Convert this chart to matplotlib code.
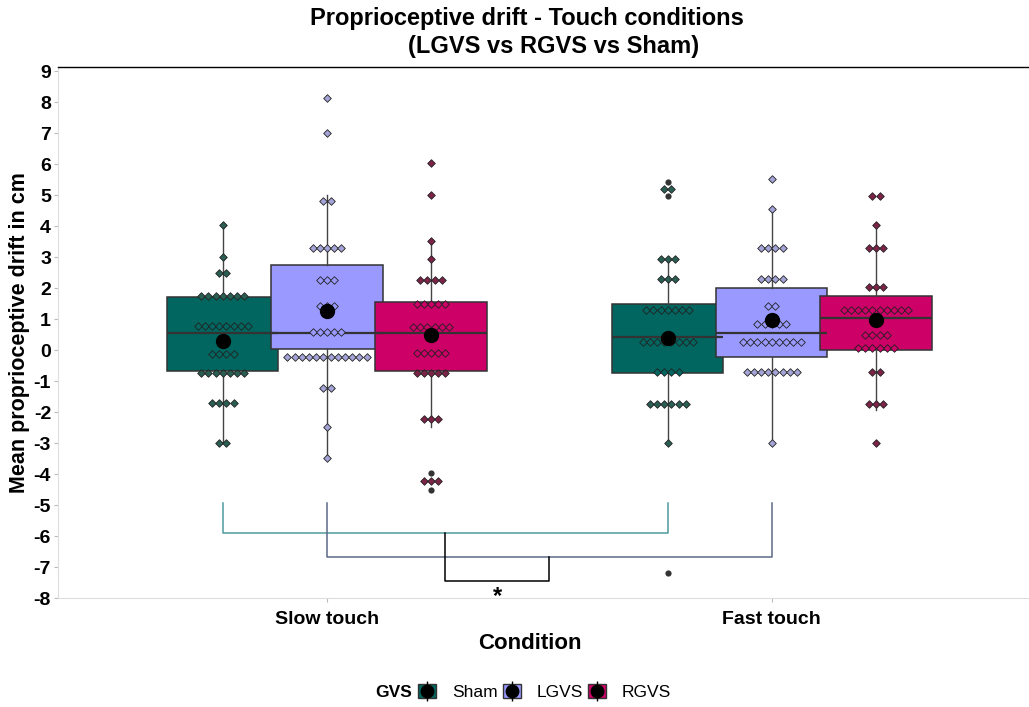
import numpy as np
import matplotlib
matplotlib.use("Agg")
import matplotlib.pyplot as plt
from matplotlib.patches import Patch
from matplotlib.lines import Line2D

plt.rcParams["font.family"] = ["Liberation Sans", "DejaVu Sans"]

# --- data ---
conditions = ["Slow touch", "Fast touch"]
groups = ["Sham", "LGVS", "RGVS"]

box_colors = {"Sham": "#00665f", "LGVS": "#9999ff", "RGVS": "#cc0066"}
dot_colors = {"Sham": "#2b5e52", "LGVS": "#a4a4d8", "RGVS": "#7c2448"}

# box stats per (condition, group): q1, median, q3, whisker low, whisker high
q1 = {("Slow touch", "Sham"): -0.68, ("Slow touch", "LGVS"): 0.03, ("Slow touch", "RGVS"): -0.68,
      ("Fast touch", "Sham"): -0.75, ("Fast touch", "LGVS"): -0.23, ("Fast touch", "RGVS"): 0.0}
med = {("Slow touch", "Sham"): 0.55, ("Slow touch", "LGVS"): 0.55, ("Slow touch", "RGVS"): 0.55,
       ("Fast touch", "Sham"): 0.42, ("Fast touch", "LGVS"): 0.55, ("Fast touch", "RGVS"): 1.03}
q3 = {("Slow touch", "Sham"): 1.71, ("Slow touch", "LGVS"): 2.75, ("Slow touch", "RGVS"): 1.55,
      ("Fast touch", "Sham"): 1.5, ("Fast touch", "LGVS"): 2.0, ("Fast touch", "RGVS"): 1.74}
whislo = {("Slow touch", "Sham"): -3.0, ("Slow touch", "LGVS"): -3.48, ("Slow touch", "RGVS"): -2.48,
          ("Fast touch", "Sham"): -3.0, ("Fast touch", "LGVS"): -3.0, ("Fast touch", "RGVS"): -1.94}
whishi = {("Slow touch", "Sham"): 4.03, ("Slow touch", "LGVS"): 5.0, ("Slow touch", "RGVS"): 3.55,
          ("Fast touch", "Sham"): 2.94, ("Fast touch", "LGVS"): 4.55, ("Fast touch", "RGVS"): 4.03}
means = {("Slow touch", "Sham"): 0.29, ("Slow touch", "LGVS"): 1.26, ("Slow touch", "RGVS"): 0.48,
         ("Fast touch", "Sham"): 0.38, ("Fast touch", "LGVS"): 0.97, ("Fast touch", "RGVS"): 0.97}
outliers = {("Slow touch", "Sham"): [], ("Slow touch", "LGVS"): [], ("Slow touch", "RGVS"): [-3.97, -4.52],
            ("Fast touch", "Sham"): [5.42, 4.97, -7.2], ("Fast touch", "LGVS"): [], ("Fast touch", "RGVS"): []}

# dotplot values: (value, count)
dots = {
    ("Slow touch", "Sham"): [(4.03, 1), (3.0, 1), (2.48, 2), (1.74, 7), (0.77, 8), (-0.13, 4),
                             (-0.74, 7), (-1.71, 4), (-3.0, 2)],
    ("Slow touch", "LGVS"): [(8.13, 1), (7.0, 1), (4.8, 2), (3.29, 5), (2.26, 3), (1.42, 3),
                             (0.58, 5), (-0.23, 12), (-1.23, 2), (-2.48, 1), (-3.48, 1)],
    ("Slow touch", "RGVS"): [(6.03, 1), (5.0, 1), (3.52, 1), (2.94, 1), (2.26, 4), (1.48, 5),
                             (0.74, 6), (-0.1, 5), (-0.74, 5), (-2.23, 3), (-4.23, 3)],
    ("Fast touch", "Sham"): [(5.2, 2), (2.94, 3), (2.29, 3), (1.29, 7), (0.26, 8), (-0.71, 4),
                             (-1.74, 6), (-3.0, 1)],
    ("Fast touch", "LGVS"): [(5.52, 1), (4.55, 1), (3.29, 4), (2.29, 4), (1.42, 2), (0.84, 5),
                             (0.26, 9), (-0.71, 8), (-3.0, 1)],
    ("Fast touch", "RGVS"): [(4.97, 2), (4.03, 1), (3.29, 3), (2.03, 3), (1.29, 10), (0.48, 4),
                             (0.06, 6), (-0.71, 2), (-1.74, 3), (-3.0, 1)],
}

y_ticks = list(range(-8, 10))

# --- layout ---
dodge = 0.234
box_w = 0.25
dot_step = 0.0162

fig = plt.figure(figsize=(10.29, 7.07), dpi=100)
ax = fig.add_axes([0.0564, 0.154, 0.9436, 0.751])

pos = {}
for ci, cond in enumerate(conditions):
    for gi, g in enumerate(groups):
        pos[(cond, g)] = ci + 1 + (gi - 1) * dodge

for cond in conditions:
    for g in groups:
        key = (cond, g)
        x = pos[key]
        stats = [{"q1": q1[key], "med": med[key], "q3": q3[key],
                  "whislo": whislo[key], "whishi": whishi[key], "fliers": []}]
        ax.bxp(stats, positions=[x], widths=box_w, patch_artist=True, showcaps=False,
               showfliers=False, manage_ticks=False,
               boxprops=dict(facecolor=box_colors[g], edgecolor="#333333", linewidth=1.1),
               medianprops=dict(color="#333333", linewidth=1.6),
               whiskerprops=dict(color="#444444", linewidth=1.0),
               zorder=2)
        # outliers
        if outliers[key]:
            ax.scatter([x] * len(outliers[key]), outliers[key], s=20, color="#333333",
                       zorder=3, linewidths=0)
        # stacked dots
        for val, n in dots[key]:
            xs = x + (np.arange(n) - (n - 1) / 2) * dot_step
            inside = q1[key] <= val <= q3[key]
            face = box_colors[g] if inside else dot_colors[g]
            ax.scatter(xs, [val] * n, marker="D", s=15, facecolor=face,
                       edgecolor="#222222", linewidths=0.6, zorder=4)
        ax.scatter([x], [means[key]], s=100, color="black", zorder=5)

# significance brackets
sham_lo, sham_hi = pos[("Slow touch", "Sham")], pos[("Fast touch", "Sham")]
lg_lo, lg_hi = pos[("Slow touch", "LGVS")], pos[("Fast touch", "LGVS")]
y_top, y_sham, y_lg, y_star = -4.94, -5.9, -6.68, -7.45
ax.plot([sham_lo, sham_lo, sham_hi, sham_hi], [y_top, y_sham, y_sham, y_top],
        color="#4f9a9c", linewidth=1.1, zorder=1)
ax.plot([lg_lo, lg_lo, lg_hi, lg_hi], [y_top, y_lg, y_lg, y_top],
        color="#5b6a88", linewidth=1.1, zorder=1)
m1 = (sham_lo + sham_hi) / 2
m2 = (lg_lo + lg_hi) / 2
ax.plot([m1, m1, m2, m2], [y_sham, y_star, y_star, y_lg], color="black", linewidth=1.1, zorder=1)
ax.text((m1 + m2) / 2, y_star - 0.12, "*", ha="center", va="top", fontsize=17, fontweight="bold")

# axes styling
ax.set_xlim(0.3955, 2.578)
ax.set_ylim(-8, 9.13)
ax.set_xticks([1, 2])
ax.set_xticklabels(conditions, fontsize=14, fontweight="bold")
ax.set_yticks(y_ticks)
ax.set_yticklabels([str(t) for t in y_ticks], fontsize=14, fontweight="bold")
ax.tick_params(axis="both", colors="#bbbbbb", labelcolor="black", length=3, width=0.8, pad=2)
ax.tick_params(axis="x", pad=6)
for side in ["left", "bottom"]:
    ax.spines[side].set_color("#dddddd")
ax.spines["right"].set_visible(False)
ax.spines["top"].set_color("black")
ax.spines["top"].set_linewidth(1.0)

ax.set_xlabel("Condition", fontsize=16, fontweight="bold", labelpad=4, x=0.486)
ax.set_ylabel("Mean proprioceptive drift in cm", fontsize=15.5, fontweight="bold", labelpad=3)
fig.text(0.512, 1 - 7 / 707, "Proprioceptive drift - Touch conditions\n        (LGVS vs RGVS vs Sham)",
         ha="center", va="top", fontsize=17, fontweight="bold", linespacing=1.3)

# legend
handles = []
for g in groups:
    handles.append((Patch(facecolor=box_colors[g], edgecolor="#333333"),
                    Line2D([], [], marker="|", color="black", markersize=15, linestyle=""),
                    Line2D([], [], marker="o", color="black", markersize=9, linestyle="")))
fig.text(375 / 1029, 0.021, "GVS", fontsize=12.5, fontweight="bold", va="center")
fig.legend(handles, groups, loc="center left", bbox_to_anchor=(418 / 1029, 0.021), ncol=3,
           frameon=False, fontsize=12.5, handlelength=1.05, handleheight=0.8, borderpad=0,
           borderaxespad=0, columnspacing=0.3, handletextpad=0.9)

fig.savefig("out.png", dpi=100)
